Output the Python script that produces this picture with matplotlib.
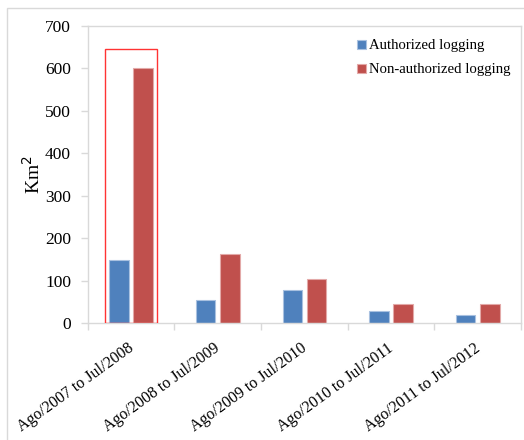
import matplotlib.pyplot as plt
import matplotlib.patches as patches
import matplotlib.transforms as mtransforms
import numpy as np

# data (Km2)
periods = ["Ago/2007 to Jul/2008", "Ago/2008 to Jul/2009", "Ago/2009 to Jul/2010",
           "Ago/2010 to Jul/2011", "Ago/2011 to Jul/2012"]
authorized = [148, 55, 78, 30, 19]
non_authorized = [600, 163, 104, 45, 46]

series_names = ["Authorized logging", "Non-authorized logging"]
blue = "#4F81BD"
red = "#C0504D"

plt.rcParams['font.family'] = ['Liberation Serif', 'DejaVu Serif']

fig = plt.figure(figsize=(5.24, 4.40), dpi=100)
ax = fig.add_axes([0.1674, 0.2652, 0.827, 0.6757])

# outer chart border
fig.patches.append(patches.Rectangle((7 / 524, -0.1), 1.2, 0.982 + 0.1, transform=fig.transFigure,
                                     fill=False, edgecolor="#d9d9d9", linewidth=1.0))

x = np.arange(len(periods))
width = 0.225
offset = 0.14
ax.bar(x - offset, authorized, width, color=blue, edgecolor="#a9c1e0", linewidth=0.8,
       label=series_names[0])
ax.bar(x + offset, non_authorized, width, color=red, edgecolor="#e3a9a8", linewidth=0.8,
       label=series_names[1])

# highlight box around the first period
top_first = max(authorized[0], non_authorized[0]) + 45
ax.add_patch(patches.Rectangle((x[0] - 0.297, 0), 0.596, top_first, fill=False,
                               edgecolor="#ff3333", linewidth=1.0, zorder=3))

ax.set_xlim(-0.5, len(periods) - 0.5)
ax.set_ylim(0, 700)
ax.set_yticks(np.arange(0, 701, 100))
ax.tick_params(axis='y', length=5, width=1, color="#d9d9d9", labelsize=12.5, pad=7)

ax.set_xticks(x)
ax.set_xticklabels(periods, rotation=36, ha='right', rotation_mode='anchor', fontsize=11.5)
ax.tick_params(axis='x', which='major', length=0, pad=12)
shift = mtransforms.ScaledTranslation(-4 / 100, 0, fig.dpi_scale_trans)
for lbl in ax.get_xticklabels():
    lbl.set_transform(lbl.get_transform() + shift)
ax.set_xticks(np.arange(len(periods) + 1) - 0.5, minor=True)
ax.tick_params(axis='x', which='minor', length=5, width=1, color="#d9d9d9")

for s in ax.spines.values():
    s.set_color("#d9d9d9")
    s.set_linewidth(1.0)

ax.set_ylabel("Km$^2$", fontsize=14, labelpad=1)

ax.legend(loc='upper left', bbox_to_anchor=(0.621, 0.955), frameon=False, fontsize=10.6,
          handlelength=0.6, handleheight=0.6, handletextpad=0.25, labelspacing=0.75,
          borderpad=0, borderaxespad=0)

fig.savefig("out.png", dpi=100)
